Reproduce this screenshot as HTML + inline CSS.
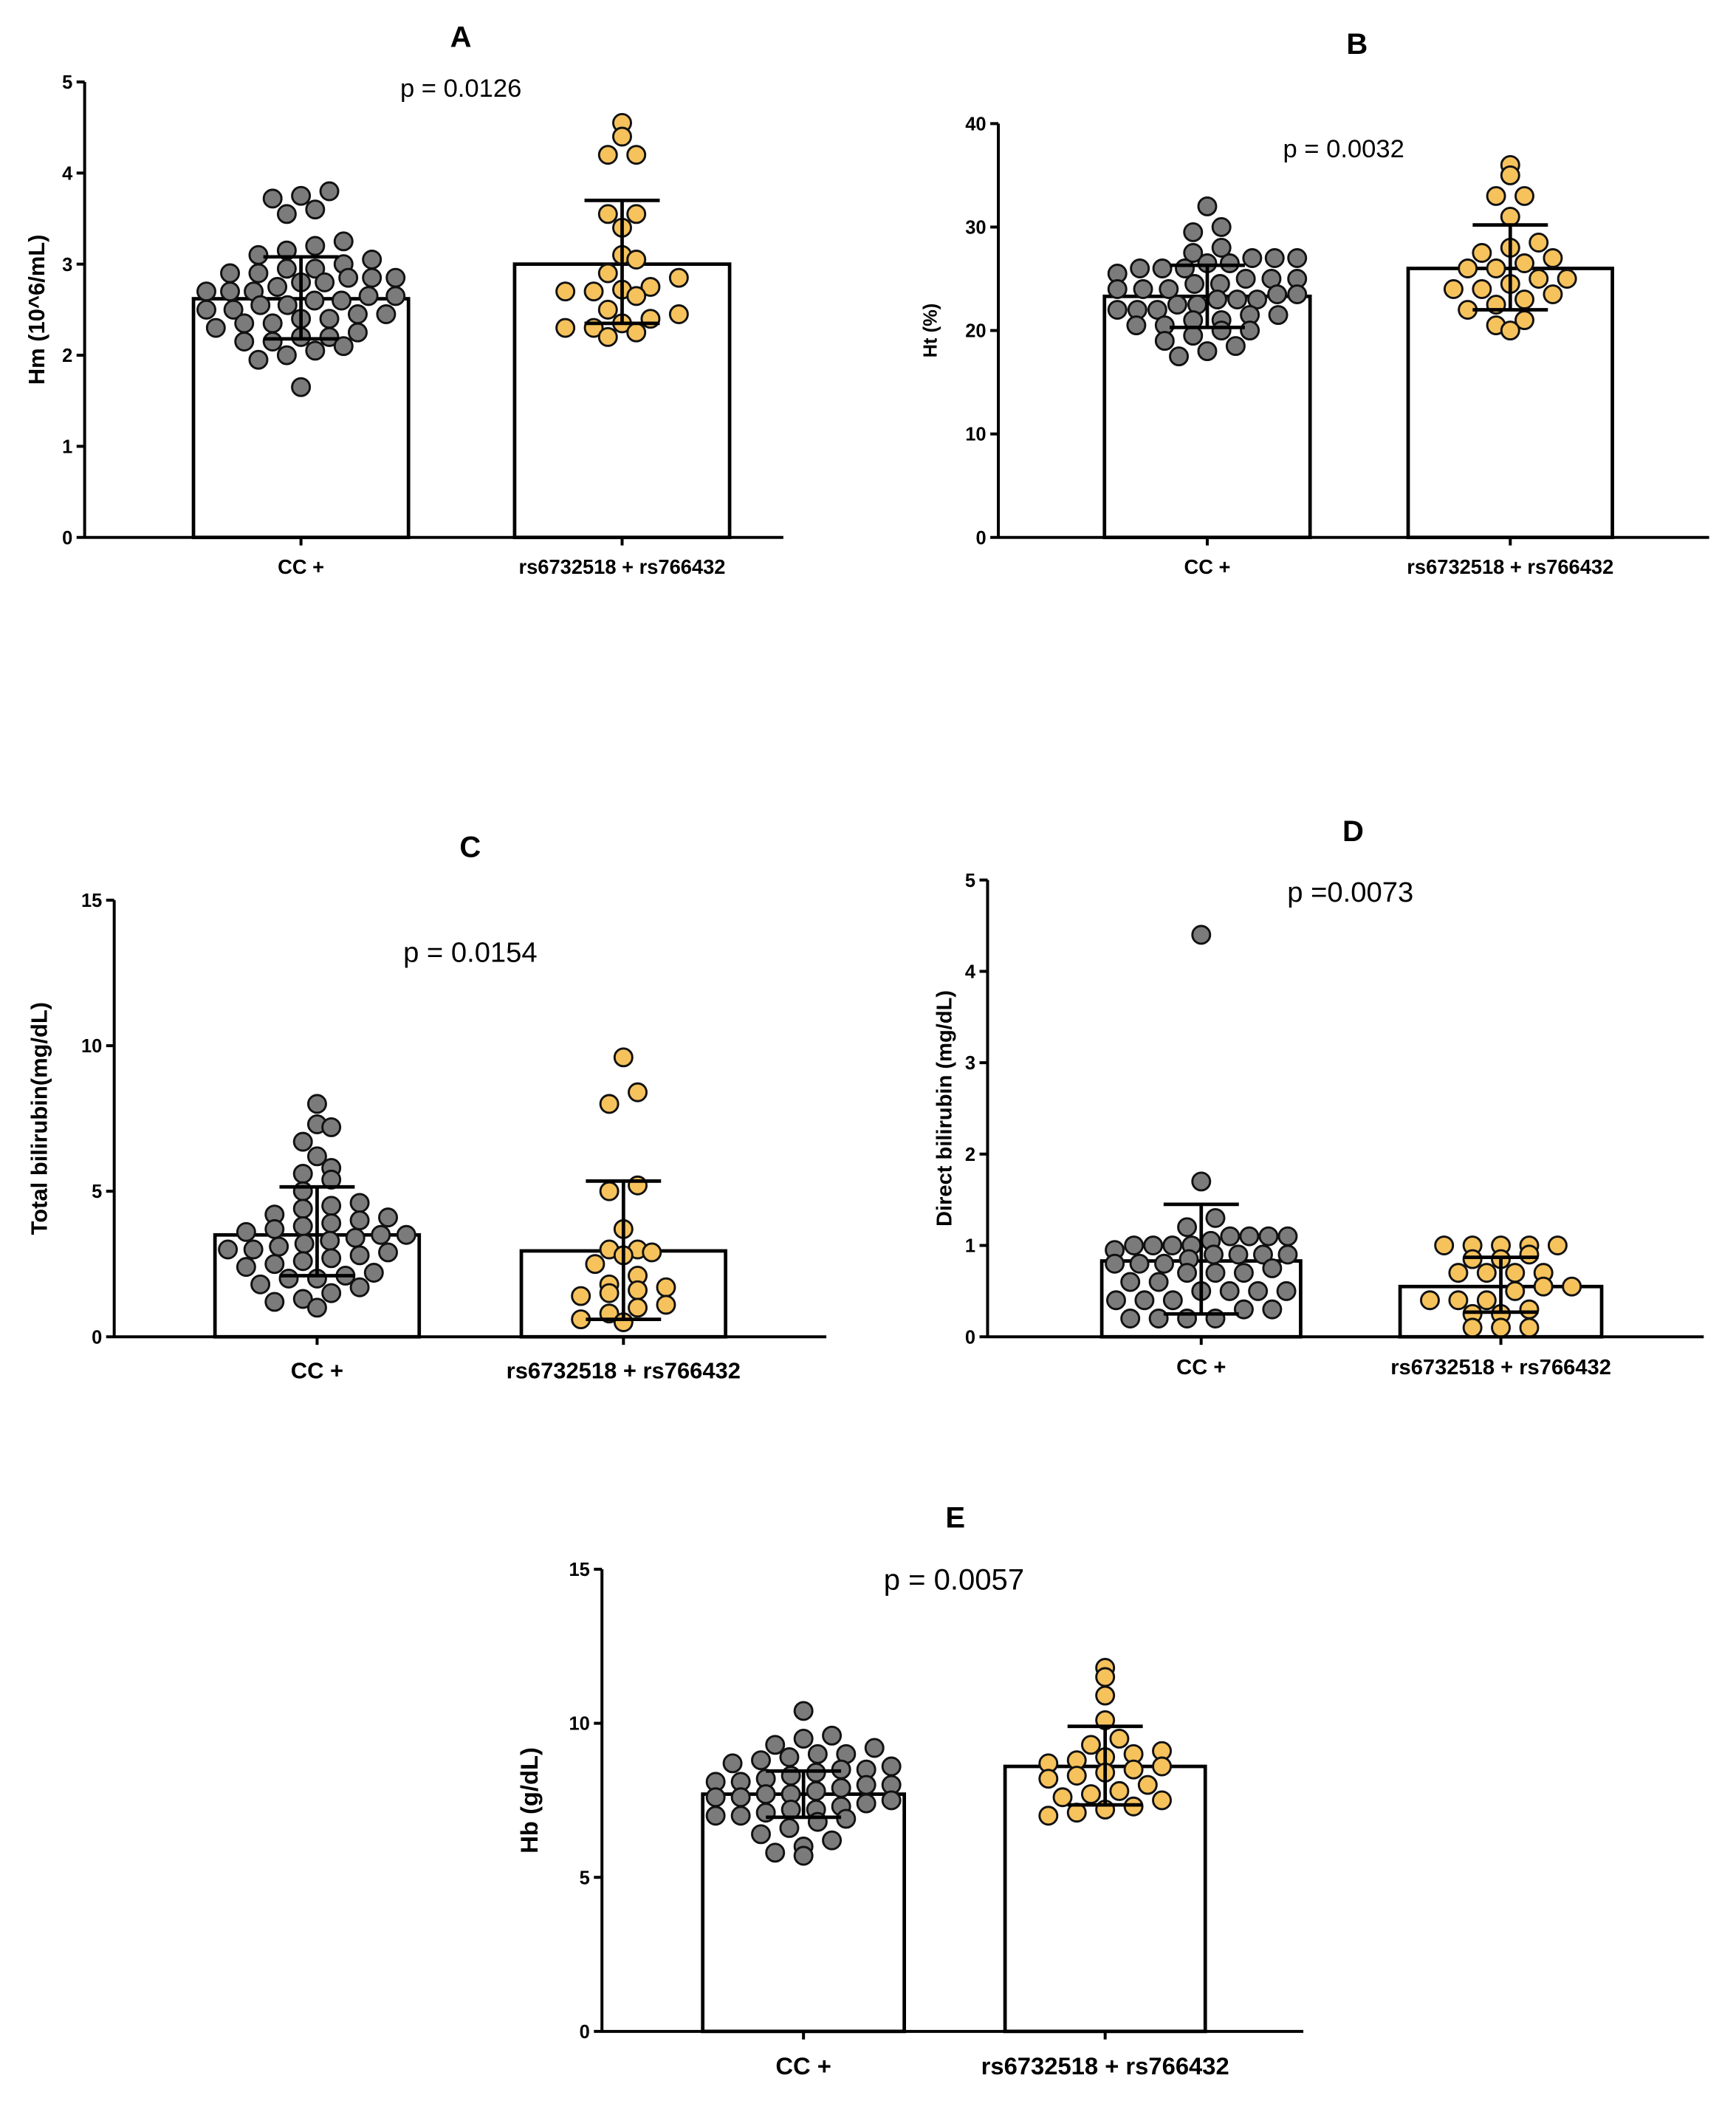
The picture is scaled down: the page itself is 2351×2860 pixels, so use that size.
<!DOCTYPE html>
<html><head><meta charset="utf-8"><style>
html,body{margin:0;padding:0;background:#fff}
svg{display:block}
text{font-family:"Liberation Sans",Arial,sans-serif}
</style></head><body>
<svg id="fig" width="2351" height="2860" viewBox="0 0 1292 1572" preserveAspectRatio="none" xmlns="http://www.w3.org/2000/svg"></svg>
<script>
const categories = ["CC +", "rs6732518 + rs766432"];
const aG1 = [3.8,3.75,3.72,3.6,3.55,3.25,3.2,3.15,3.1,3.05,3.0,2.95,2.95,2.9,2.9,2.85,2.85,2.8,2.8,2.75,2.7,2.7,2.65,2.65,2.6,2.6,2.55,2.55,2.5,2.5,2.45,2.45,2.4,2.4,2.35,2.35,2.3,2.25,2.2,2.2,2.15,2.15,2.1,2.05,2.0,1.95,1.65,2.7,2.85];
const aG2 = [4.55,4.4,4.2,4.2,3.55,3.55,3.4,3.1,3.05,2.9,2.85,2.75,2.72,2.7,2.7,2.65,2.5,2.45,2.4,2.35,2.3,2.3,2.2,2.25];
const aMean = [2.62, 3.0], aLo = [2.18, 2.35], aHi = [3.08, 3.7];
const bG1 = [32,30,29.5,28,27.5,27,27,27,26.5,26.5,26,26,25.5,25,25,24.5,24.5,24,24,24,23.5,23.5,23,23,22.5,22.5,22,22,21.5,21.5,21,21,20.5,20.5,20,20,19.5,19,18.5,18,17.5,26,25,23,22];
const bG2 = [36,35,33,33,31,28.5,28,27.5,27,26.5,26,26,25,25,24.5,24,24,23.5,23,22.5,22,21,20.5,20];
const bMean = [23.3, 26.0], bLo = [20.3, 22.0], bHi = [26.3, 30.2];
const cG1 = [8,7.3,7.2,6.7,6.2,5.8,5.6,5.4,5,4.6,4.4,4.2,4.1,4,3.9,3.8,3.7,3.6,3.5,3.4,3.3,3.2,3,3,2.9,2.8,2.6,2.5,2.4,2.2,2.1,2,2,1.8,1.7,1.5,1.3,1.2,1,3.5,3.1,2.7,4.5];
const cG2 = [9.6,8.4,8,5.2,5.0,3.7,3,3,2.9,2.8,2.5,2.1,1.8,1.7,1.6,1.5,1.4,1.1,1.0,0.8,0.6,0.5];
const cMean = [3.5, 2.95], cLo = [2.1, 0.6], cHi = [5.15, 5.35];
const dG1 = [4.4,1.7,1.3,1.2,1.1,1.1,1.1,1.1,1.05,1.0,1.0,1.0,1.0,0.95,0.9,0.9,0.9,0.9,0.85,0.8,0.8,0.8,0.75,0.7,0.7,0.7,0.6,0.6,0.5,0.5,0.5,0.5,0.4,0.4,0.4,0.3,0.3,0.2,0.2,0.2,0.2];
const dG2 = [1.0,1.0,1.0,1.0,1.0,0.9,0.85,0.85,0.7,0.7,0.7,0.7,0.55,0.55,0.5,0.4,0.4,0.4,0.3,0.25,0.25,0.1,0.1,0.1];
const dMean = [0.83, 0.55], dLo = [0.25, 0.27], dHi = [1.45, 0.87];
const eG1 = [10.4,9.6,9.5,9.3,9.2,9.0,8.9,8.8,8.7,8.6,8.5,8.4,8.3,8.2,8.1,8.0,8.0,7.9,7.8,7.7,7.6,7.6,7.5,7.4,7.3,7.2,7.1,7.0,7.0,6.9,6.8,6.6,6.4,6.2,6.0,5.8,5.7,7.7,7.2,8.5,8.1,9.0];
const eG2 = [11.8,11.5,10.9,10.1,9.5,9.3,9.1,9.0,8.8,8.7,8.6,8.5,8.4,8.3,8.0,7.8,7.7,7.6,7.5,7.3,7.2,7.1,7.0,8.9,8.2];
const eMean = [7.7, 8.6], eLo = [6.95, 7.35], eHi = [8.45, 9.9];
const ticksA=[0,1,2,3,4,5], ticksB=[0,10,20,30,40], ticksC=[0,5,10,15], ticksD=[0,1,2,3,4,5], ticksE=[0,5,10,15];

const NS="http://www.w3.org/2000/svg";
const svg=document.getElementById('fig');
function mk(tag,attrs,parent,txt){const e=document.createElementNS(NS,tag);for(const k in attrs)e.setAttribute(k,attrs[k]);if(txt!==undefined)e.textContent=txt;(parent||svg).appendChild(e);return e;}

function panel(cfg){
  const g=mk('g',{});
  
  
  const y=v=>cfg.y0-(v-cfg.ymin)/(cfg.ymax-cfg.ymin)*(cfg.y0-cfg.ytop);
  cfg.bars.forEach((b,i)=>{
    const r=mk('rect',{x:b[0],y:y(cfg.mean[i]),width:b[1]-b[0],height:cfg.y0-y(cfg.mean[i]),fill:'#fff',stroke:'#000','stroke-width':2.6},g);
    
    
  });
  const R=6.6, colors=['#7b7b7b','#f6c25c'];
  cfg.groups.forEach((vals,i)=>{
    const cx=(cfg.bars[i][0]+cfg.bars[i][1])/2;
    const maxW=(cfg.bars[i][1]-cfg.bars[i][0])-2*R-6;
    const sorted=vals.slice().sort((a,b)=>a-b);
    const binH=R*2.0;
    const rows={};
    sorted.forEach(v=>{const k=Math.round(y(v)/binH);(rows[k]=rows[k]||[]).push(v);});
    Object.keys(rows).forEach(k=>{
      const row=rows[k], n=row.length;
      const sp=n>1?Math.max(2*R+0.6,Math.min(maxW/(n-1),3.2*R)):0;
      row.forEach((v,j)=>{
        const off=(j-(n-1)/2)*sp;
        const c=mk('circle',{cx:cx+off,cy:y(v),r:R,fill:colors[i],stroke:'#111','stroke-width':1.6},g);
        
        
      });
    });
  });
  cfg.bars.forEach((b,i)=>{
    const cx=(b[0]+b[1])/2;
    const eg=mk('g',{stroke:'#000','stroke-width':2.6},g);
    
    
    mk('line',{x1:cx,x2:cx,y1:y(cfg.lo[i]),y2:y(cfg.hi[i])},eg);
    mk('line',{x1:cx-28,x2:cx+28,y1:y(cfg.lo[i]),y2:y(cfg.lo[i])},eg);
    mk('line',{x1:cx-28,x2:cx+28,y1:y(cfg.hi[i]),y2:y(cfg.hi[i])},eg);
  });
  const ax=mk('g',{stroke:'#000','stroke-width':2.2},g);
  
  
  mk('line',{x1:cfg.ax,x2:cfg.ax,y1:cfg.ytop,y2:cfg.y0+1},ax);
  mk('line',{x1:cfg.ax,x2:cfg.xend,y1:cfg.y0,y2:cfg.y0},ax);
  cfg.ticks.forEach(t=>{
    mk('line',{x1:cfg.ax-6,x2:cfg.ax,y1:y(t),y2:y(t)},ax);
    const tl=mk('text',{x:cfg.ax-9,y:y(t)+5,'text-anchor':'end','font-size':14,'font-weight':'bold'},g,String(t));
    
    
  });
  cfg.bars.forEach((b,i)=>{
    const cx=(b[0]+b[1])/2;
    mk('line',{x1:cx,x2:cx,y1:cfg.y0,y2:cfg.y0+6},ax);
    const cl=mk('text',{x:cx,y:cfg.y0+cfg.catDy,'text-anchor':'middle','font-size':cfg.catFs,'font-weight':'bold'},g,categories[i]);
    
    
  });
  const yl=mk('text',{x:0,y:0,transform:`translate(${cfg.ylx},${(cfg.ytop+cfg.y0)/2}) rotate(-90)`,'text-anchor':'middle','font-size':cfg.ylFs,'font-weight':'bold'},g,cfg.ylabel);
  
  
  const tt=mk('text',{x:cfg.title[0],y:cfg.title[1],'text-anchor':'middle','font-size':22,'font-weight':'bold'},g,cfg.id);
  
  
  const pt=mk('text',{x:cfg.p[0],y:cfg.p[1],'text-anchor':'middle','font-size':cfg.pFs},g,cfg.ptext);
  
  
}

panel({id:'A',ax:63,y0:400,ytop:61,ymin:0,ymax:5,xend:583,bars:[[144,304],[383,543]],mean:aMean,lo:aLo,hi:aHi,groups:[aG1,aG2],ticks:ticksA,catDy:27,catFs:15,ylx:33,ylFs:17,ylabel:'Hm  (10^6/mL)',title:[343,35],p:[343,72],pFs:19,ptext:'p = 0.0126'});
panel({id:'B',ax:743,y0:400,ytop:92,ymin:0,ymax:40,xend:1272,bars:[[822,975],[1048,1200]],mean:bMean,lo:bLo,hi:bHi,groups:[bG1,bG2],ticks:ticksB,catDy:27,catFs:15,ylx:697,ylFs:14,ylabel:'Ht (%)',title:[1010,40],p:[1000,117],pFs:19,ptext:'p = 0.0032'});
panel({id:'C',ax:85,y0:995,ytop:670,ymin:0,ymax:15,xend:615,bars:[[160,312],[388,540]],mean:cMean,lo:cLo,hi:cHi,groups:[cG1,cG2],ticks:ticksC,catDy:31,catFs:17,ylx:35,ylFs:17,ylabel:'Total bilirubin(mg/dL)',title:[350,638],p:[350,716],pFs:21,ptext:'p = 0.0154'});
panel({id:'D',ax:735,y0:995,ytop:655,ymin:0,ymax:5,xend:1268,bars:[[820,968],[1042,1192]],mean:dMean,lo:dLo,hi:dHi,groups:[dG1,dG2],ticks:ticksD,catDy:28,catFs:16,ylx:708,ylFs:16,ylabel:'Direct bilirubin (mg/dL)',title:[1007,626],p:[1005,671],pFs:21,ptext:'p =0.0073'});
panel({id:'E',ax:448,y0:1512,ytop:1168,ymin:0,ymax:15,xend:970,bars:[[523,673],[748,897]],mean:eMean,lo:eLo,hi:eHi,groups:[eG1,eG2],ticks:ticksE,catDy:32,catFs:18,ylx:400,ylFs:18,ylabel:'Hb (g/dL)',title:[711,1137],p:[710,1183],pFs:22,ptext:'p = 0.0057'});
</script>
</body></html>
